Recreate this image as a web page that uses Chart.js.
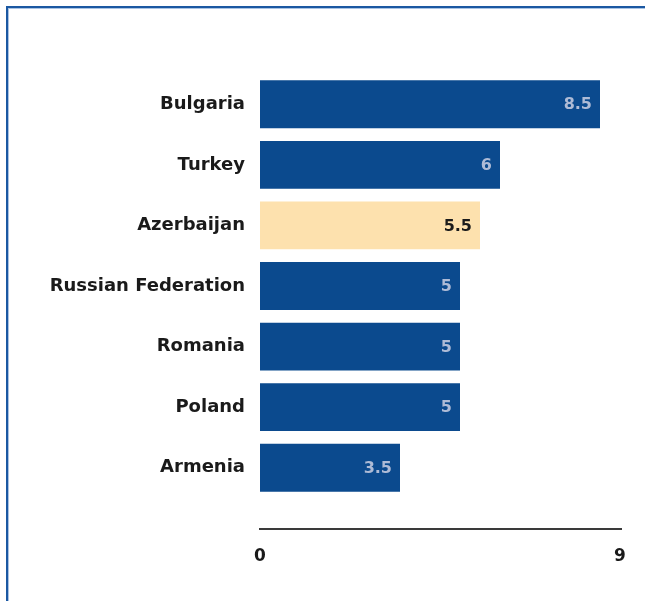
<!DOCTYPE html>
<html>
<head>
<meta charset="utf-8">
<script src="https://cdn.jsdelivr.net/npm/chart.js@4"></script>
<style>
    html, body { margin: 0; padding: 0; background: #fff; overflow: hidden; }
    #wrap { position: relative; width: 645px; height: 601px; }
    #frame {
        position: absolute; left: 6px; top: 6px; width: 700px; height: 700px;
        border-left: 2px solid #1b58a2; border-top: 2px solid #1b58a2;
        box-shadow: inset 1px 1px 0 #a9c3e4;
    }
    canvas { position: absolute; left: 0; top: 0; }
</style>
</head>
<body>
<div id="wrap">
    <canvas id="barChart" width="645" height="601"></canvas>
    <div id="frame"></div>
</div>
<script>
const countries = ["Bulgaria", "Turkey", "Azerbaijan", "Russian Federation", "Romania", "Poland", "Armenia"];
const values = [8.5, 6, 5.5, 5, 5, 5, 3.5];
const highlight = "Azerbaijan";
const xTicks = [0, 9];

const barColors = countries.map(c => c === highlight ? "#fde1ae" : "#0b4a8e");
const labelFont = "'DejaVu Sans', sans-serif";

// value labels drawn inside the end of each bar
const valueLabels = {
    id: "valueLabels",
    afterDatasetsDraw(chart) {
        const ctx = chart.ctx;
        const meta = chart.getDatasetMeta(0);
        ctx.save();
        ctx.font = "bold 16px " + labelFont;
        ctx.textAlign = "right";
        ctx.textBaseline = "middle";
        meta.data.forEach((bar, i) => {
            ctx.fillStyle = countries[i] === highlight ? "#1a1a1a" : "#aebbd6";
            ctx.fillText(String(values[i]), bar.x - 8, bar.y + 1);
        });
        ctx.restore();
    }
};

// x axis line sits a little below the last bar
const axisLine = {
    id: "axisLine",
    afterDraw(chart) {
        const ctx = chart.ctx;
        const x = chart.scales.x;
        const y = chart.chartArea.bottom + 31;
        ctx.save();
        ctx.strokeStyle = "#3a3a3a";
        ctx.lineWidth = 2;
        ctx.beginPath();
        ctx.moveTo(x.getPixelForValue(xTicks[0]) - 1, y);
        ctx.lineTo(x.getPixelForValue(xTicks[xTicks.length - 1]) + 2, y);
        ctx.stroke();
        ctx.restore();
    }
};

new Chart(document.getElementById("barChart"), {
    type: "bar",
    data: {
        labels: countries,
        datasets: [{
            data: values,
            backgroundColor: barColors,
            borderWidth: 0,
            categoryPercentage: 1,
            barPercentage: 0.79
        }]
    },
    options: {
        indexAxis: "y",
        responsive: false,
        animation: false,
        layout: { padding: { top: 74, right: 25, left: 0, bottom: 0 } },
        plugins: {
            legend: { display: false },
            tooltip: { enabled: false }
        },
        scales: {
            x: {
                min: xTicks[0],
                max: xTicks[xTicks.length - 1],
                afterBuildTicks: s => { s.ticks = xTicks.map(v => ({ value: v })); },
                afterFit: s => {
                    s.height = 103;
                    // tick padding would otherwise widen the side margins
                    s.paddingLeft = 0;
                    s.paddingRight = 0;
                },
                grid: { display: false, drawTicks: false },
                border: { display: false },
                ticks: {
                    color: "#1a1a1a",
                    padding: 48,
                    maxRotation: 0,
                    font: { family: labelFont, size: 17, weight: "bold" }
                }
            },
            y: {
                afterFit: s => { s.width = 260; },
                grid: { display: false, drawTicks: false },
                border: { display: false },
                ticks: {
                    color: "#1a1a1a",
                    padding: 15,
                    font: { family: labelFont, size: 18, weight: "bold" }
                }
            }
        }
    },
    plugins: [valueLabels, axisLine]
});
</script>
</body>
</html>
